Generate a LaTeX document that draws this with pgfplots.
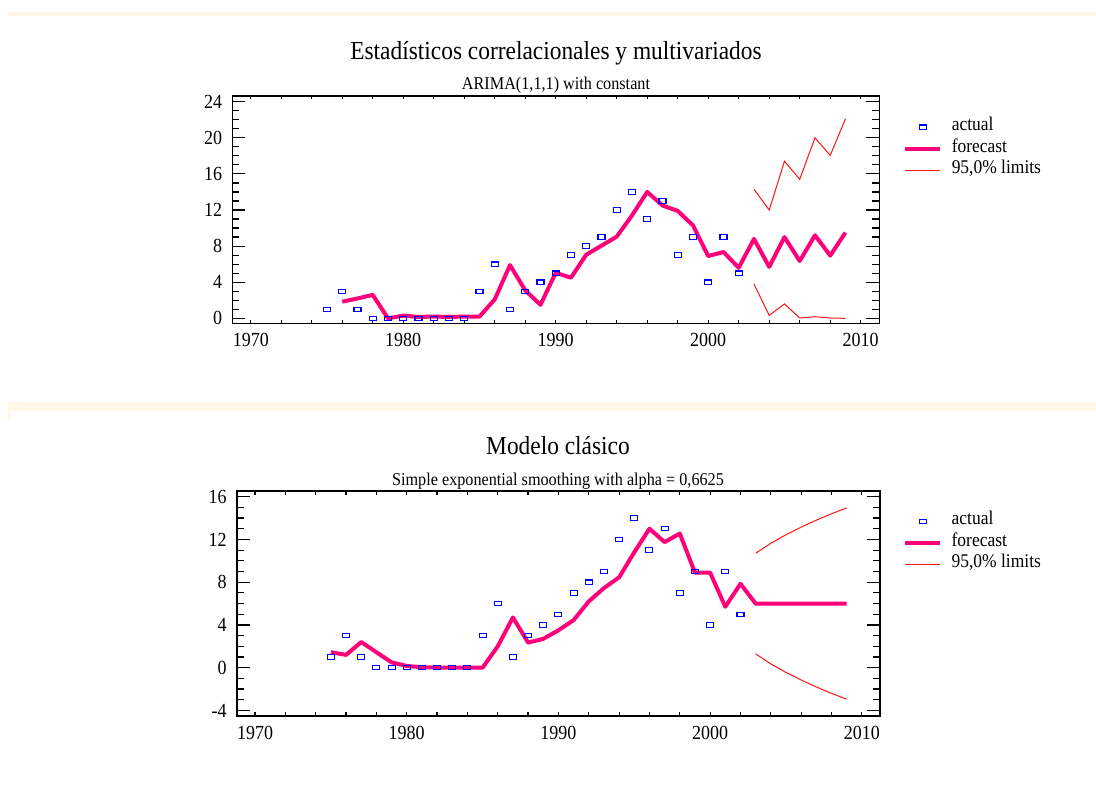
\documentclass[border=0pt]{standalone}
\usepackage{fontspec}
\setmainfont{Liberation Serif}[FakeStretch=0.9]
\usepackage{pgfplots}
\pgfplotsset{compat=1.18}

\definecolor{fcast}{RGB}{255,0,120}
\definecolor{limred}{RGB}{255,20,20}
\definecolor{cream}{RGB}{255,247,230}

\pgfdeclareplotmark{hrect}{%
  \pgfpathrectangle{\pgfqpoint{-1.75pt}{-1.1pt}}{\pgfqpoint{3.5pt}{2.2pt}}%
  \pgfusepathqstroke}

\pgfplotsset{
  fcpanel/.style={
    scale only axis,
    anchor=south west,
    axis line style={line width=0.8pt},
    tick align=inside,
    tick style={black, line width=0.6pt},
    major tick length=6.5pt,
    minor tick length=3.5pt,
    xtick style={/pgfplots/major tick length=1.8pt, /pgfplots/minor tick length=1.8pt},
    xtick={1970,1980,...,2010},
    minor x tick num=4,
    minor y tick num=3,
    ticklabel style={font=\fontsize{10}{12}\selectfont},
    /pgf/number format/assume math mode=true,
    /pgf/number format/1000 sep={},
    xticklabel style={yshift=-1.5pt},
    yticklabel style={xshift=-1.5pt},
    legend cell align=left,
    legend style={draw=none, fill=none, anchor=north west,
      inner sep=0pt, outer sep=0pt, row sep=0pt, column sep=4.75pt,
      font=\fontsize{9.7}{11}\selectfont,
      nodes={inner xsep=0pt, inner ysep=0pt, text height=7.2pt, text depth=3.55pt}},
  },
  actual/.style={only marks, mark=hrect, mark options={draw=blue, line width=0.55pt},
    legend image code/.code={\draw[mark repeat=2,mark phase=2,##1] plot coordinates {(0pt,0pt) (8.75pt,0pt) (17.5pt,0pt)};}},
  fc/.style={no marks, color=fcast, line width=2pt, line join=round,
    legend image code/.code={\draw[##1] (0pt,0pt) -- (17.5pt,0pt);}},
  lim/.style={no marks, color=limred, line width=0.5pt,
    legend image code/.code={\draw[##1] (0pt,0pt) -- (17.5pt,0pt);}},
}

\begin{document}
\begin{tikzpicture}
\fill[white] (0pt,0pt) rectangle (548pt,-394pt);
\useasboundingbox (0pt,0pt) rectangle (548pt,-394pt);
\fill[cream] (4pt,-6pt) rectangle (548pt,-8pt);
\fill[cream] (4pt,-201pt) rectangle (548pt,-205.7pt);
\fill[cream] (4pt,-205.7pt) rectangle (5.5pt,-210pt);

% titles
\node[anchor=base, font=\fontsize{13}{15}\selectfont] at (278pt,-29.5pt) {Estadísticos correlacionales y multivariados};
\node[anchor=base, font=\fontsize{9}{11}\selectfont] at (278pt,-44.5pt) {ARIMA(1,1,1) with constant};
\node[anchor=base, font=\fontsize{13}{15}\selectfont] at (279pt,-227pt) {Modelo clásico};
\node[anchor=base, font=\fontsize{9}{11}\selectfont] at (279pt,-242.5pt) {Simple exponential smoothing with alpha = 0,6625};

\begin{axis}[fcpanel,
  at={(116.15pt,-161.65pt)},
  width=323.5pt, height=113.8pt,
  xmin=1968.79, xmax=2011.22,
  ymin=-0.55, ymax=24.66,
  ytick={0,4,...,24},
  legend style={at={(1.037,0.909)}},
]
\addplot[actual] coordinates {
 (1975,1)(1976,3)(1977,1)(1978,0)(1979,0)(1980,0)(1981,0)(1982,0)(1983,0)(1984,0)
 (1985,3)(1986,6)(1987,1)(1988,3)(1989,4)(1990,5)(1991,7)(1992,8)(1993,9)(1994,12)
 (1995,14)(1996,11)(1997,13)(1998,7)(1999,9)(2000,4)(2001,9)(2002,5)};
\addlegendentry{actual}
\addplot[fc] coordinates {
 (1976,1.85)(1977,2.2)(1978,2.6)(1979,0)(1980,0.3)(1981,0.15)(1982,0.2)(1983,0.15)
 (1984,0.2)(1985,0.2)(1986,2.1)(1987,5.9)(1988,3.1)(1989,1.5)(1990,5.05)(1991,4.5)
 (1992,7.05)(1993,8.05)(1994,9.05)(1995,11.4)(1996,14.0)(1997,12.5)(1998,11.9)
 (1999,10.3)(2000,6.9)(2001,7.35)(2002,5.6)(2003,8.8)(2004,5.7)(2005,9.0)(2006,6.35)
 (2007,9.2)(2008,6.95)(2009,9.5)};
\addlegendentry{forecast}
\addplot[lim] coordinates {
 (2003,14.3)(2004,12.0)(2005,17.4)(2006,15.4)(2007,20.0)(2008,18.05)(2009,22.1)};
\addlegendentry{95,0\% limits}
\addplot[lim, forget plot] coordinates {
 (2003,3.8)(2004,0.33)(2005,1.6)(2006,0.04)(2007,0.18)(2008,0.04)(2009,0.0)};
\end{axis}

\begin{axis}[fcpanel,
  at={(118.35pt,-358pt)},
  width=321.65pt, height=112.5pt,
  xmin=1968.79, xmax=2011.2,
  ymin=-4.52, ymax=16.53,
  ytick={-4,0,...,16},
  legend style={at={(1.036,0.913)}},
]
\addplot[actual] coordinates {
 (1975,1)(1976,3)(1977,1)(1978,0)(1979,0)(1980,0)(1981,0)(1982,0)(1983,0)(1984,0)
 (1985,3)(1986,6)(1987,1)(1988,3)(1989,4)(1990,5)(1991,7)(1992,8)(1993,9)(1994,12)
 (1995,14)(1996,11)(1997,13)(1998,7)(1999,9)(2000,4)(2001,9)(2002,5)};
\addlegendentry{actual}
\addplot[fc] coordinates {
 (1975,1.45)(1976,1.2)(1977,2.4)(1978,1.45)(1979,0.5)(1980,0.16)(1981,0.05)(1982,0.02)
 (1983,0)(1984,0)(1985,0)(1986,2.0)(1987,4.7)(1988,2.35)(1989,2.7)(1990,3.5)(1991,4.45)
 (1992,6.2)(1993,7.45)(1994,8.45)(1995,10.8)(1996,13.0)(1997,11.75)(1998,12.55)
 (1999,8.9)(2000,8.9)(2001,5.7)(2002,7.85)(2003,6.0)(2004,6.0)(2005,6.0)(2006,6.0)
 (2007,6.0)(2008,6.0)(2009,6.0)};
\addlegendentry{forecast}
\addplot[lim] coordinates {
 (2003,10.7)(2004,11.64)(2005,12.44)(2006,13.15)(2007,13.8)(2008,14.4)(2009,14.95)};
\addlegendentry{95,0\% limits}
\addplot[lim, forget plot] coordinates {
 (2003,1.3)(2004,0.36)(2005,-0.44)(2006,-1.15)(2007,-1.8)(2008,-2.4)(2009,-2.95)};
\end{axis}
\end{tikzpicture}
\end{document}
